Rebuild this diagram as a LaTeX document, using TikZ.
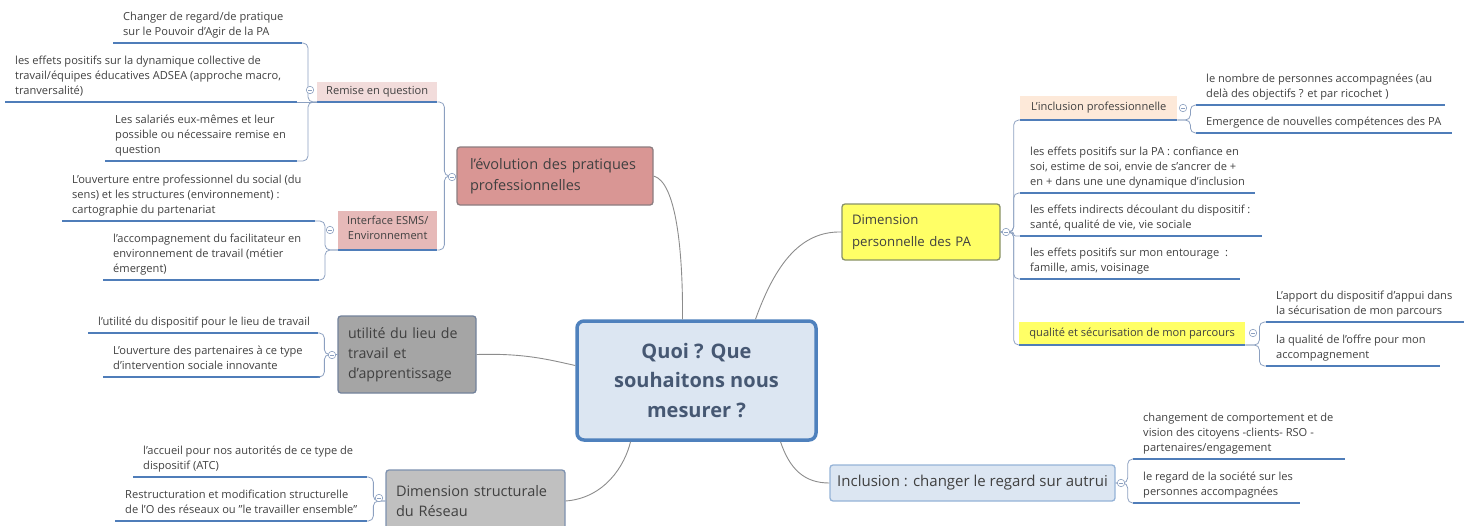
\documentclass[tikz,border=0pt]{standalone}
\usepackage{fontspec}
\setmainfont{Open Sans}
\definecolor{txt}{RGB}{64,64,64}
\definecolor{ulc}{RGB}{79,125,185}
\definecolor{brc}{RGB}{140,160,192}
\definecolor{cnc}{RGB}{140,140,140}
\definecolor{evo}{RGB}{217,150,148}
\definecolor{remq}{RGB}{242,220,219}
\definecolor{iface}{RGB}{230,185,184}
\definecolor{util}{RGB}{165,165,165}
\definecolor{struc}{RGB}{192,192,192}
\definecolor{yel}{RGB}{255,255,102}
\definecolor{peach}{RGB}{253,233,217}
\definecolor{lblue}{RGB}{220,230,242}
\definecolor{cbord}{RGB}{79,129,189}
\definecolor{ibord}{RGB}{149,179,215}
\definecolor{ctext}{RGB}{70,88,115}
\definecolor{evob}{RGB}{140,125,128}
\definecolor{utilb}{RGB}{115,130,155}
\definecolor{strucb}{RGB}{125,145,175}
\definecolor{yelb}{RGB}{135,145,105}
\newcommand\fsub{\fontsize{11.1}{15.2}\selectfont}
\newcommand\leaf[5]{%
  \node[leafnode] (#1) at (#2,#3) {#5};
  \coordinate (#1L) at (#2,#3);
  \coordinate (#1R) at ({#2+#4},#3);
  \draw[uline] (#1L) -- (#1R);}
\begin{document}
\begin{tikzpicture}[x=1pt,y=-1pt,
  leafnode/.style={anchor=south west, inner xsep=10pt, inner ysep=2.5pt, align=left, font=\fsub, text=txt, execute at begin node=\strut, execute at end node=\strut},
  subbox/.style={anchor=south west, inner xsep=5pt, inner ysep=2.5pt, align=center, font=\fsub, text=txt, execute at begin node=\strut, execute at end node=\strut},
  topic/.style={rectangle, rounded corners=3pt, line width=1.3pt, text=txt, inner ysep=0pt},
  uline/.style={draw=ulc, line width=2.8pt},
  brk/.style={draw=brc, line width=0.8pt, rounded corners=5pt},
  conn/.style={draw=cnc, line width=0.9pt},
  collapse/.style={circle, draw=brc, fill=white, line width=0.6pt, minimum size=7.5pt, inner sep=0pt,
    path picture={\draw[brc, line width=0.6pt] ([xshift=1.8pt]path picture bounding box.west) -- ([xshift=-1.8pt]path picture bounding box.east);}}]
\useasboundingbox (0,0) rectangle (1464,525);
\clip (0,0) rectangle (1464,525);

% main topics
\node[topic, fill=lblue, draw=cbord, line width=3.5pt, rounded corners=7pt, minimum width=239pt, minimum height=119pt, align=center, font=\bfseries\fontsize{20}{29.5}\selectfont, text=ctext] (C) at (696.5,380.5) {Quoi ? Que\\souhaitons nous\\mesurer ?};
\node[topic, fill=evo, draw=evob, minimum width=196pt, minimum height=58pt, text width=170pt, inner xsep=13pt, align=left, font=\fontsize{14.5}{21}\selectfont] (E) at (555,176) {l'évolution des pratiques\\professionnelles};
\node[topic, fill=util, draw=utilb, minimum width=138pt, minimum height=77pt, text width=118pt, inner xsep=10pt, align=left, font=\fontsize{14.2}{20}\selectfont] (U) at (407,354.5) {utilité du lieu de\\travail et\\d'apprentissage};
\node[topic, fill=struc, draw=strucb, minimum width=179pt, minimum height=62pt, text width=159pt, inner xsep=10pt, align=left, font=\fontsize{14.5}{20}\selectfont] (S) at (475.5,501) {Dimension structurale\\du Réseau};
\node[topic, fill=yel, draw=yelb, minimum width=158pt, minimum height=56pt, text width=138pt, inner xsep=10pt, align=left, font=\fontsize{13.2}{22}\selectfont] (D) at (921,232) {Dimension\\personnelle des PA};
\node[topic, fill=lblue, draw=ibord, minimum width=285pt, minimum height=36pt, align=center, font=\fontsize{15}{18}\selectfont] (I) at (972.5,483) {Inclusion : changer le regard sur autrui};

% filled subtopics
\node[subbox, fill=remq, minimum width=120pt, minimum height=20pt] (rq) at (317,102) {Remise en question};
\node[subbox, fill=iface, minimum width=99pt, minimum height=39pt] (ie) at (338,250) {Interface ESMS/\\Environnement};
\node[subbox, fill=peach, minimum width=157pt, minimum height=24pt] (lip) at (1020,120) {L'inclusion professionnelle};
\node[subbox, fill=yel, minimum width=226pt, minimum height=23pt] (qs) at (1019,345) {qualité et sécurisation de mon parcours};
\draw[uline] (rq.south west) -- (rq.south east);
\draw[uline] (ie.south west) -- (ie.south east);
\draw[uline] (lip.south west) -- (lip.south east);
\draw[uline] (qs.south west) -- (qs.south east);

% leaves
\leaf{r1}{113}{43}{189}{Changer de regard/de pratique\\sur le Pouvoir d'Agir de la PA}
\leaf{r2}{5}{102}{292}{les effets positifs sur la dynamique collective de\\travail/équipes éducatives ADSEA (approche macro,\\tranversalité)}
\leaf{r3}{105}{161}{192}{Les salariés eux-mêmes et leur\\possible ou nécessaire remise en\\question}
\leaf{i1}{62}{221}{253}{L'ouverture entre professionnel du social (du\\sens) et les structures (environnement) :\\cartographie du partenariat}
\leaf{i2}{103}{280}{216}{l'accompagnement du facilitateur en\\environnement de travail (métier\\émergent)}
\leaf{u1}{88}{333}{230}{l'utilité du dispositif pour le lieu de travail}
\leaf{u2}{103}{377}{217}{L'ouverture des partenaires à ce type\\d'intervention sociale innovante}
\leaf{s1}{133}{477}{234}{l'accueil pour nos autorités de ce type de\\dispositif (ATC)}
\leaf{s2}{115}{521}{252}{Restructuration et modification structurelle\\de l'O des réseaux ou "le travailler ensemble"}
\leaf{d1}{1020}{193}{235}{les effets positifs sur la PA : confiance en\\soi, estime de soi, envie de s'ancrer de +\\en + dans une une dynamique d'inclusion}
\leaf{d2}{1020}{236}{242}{les effets indirects découlant du dispositif :\\santé, qualité de vie, vie sociale}
\leaf{d3}{1020}{279}{220}{les effets positifs sur mon entourage~ :\\famille, amis, voisinage}
\leaf{l1}{1196}{105}{249}{le nombre de personnes accompagnées (au\\delà des objectifs ? et par ricochet )}
\leaf{l2}{1196}{133}{256}{Emergence de nouvelles compétences des PA}
\leaf{q1}{1266}{322}{198}{L'apport du dispositif d'appui dans\\la sécurisation de mon parcours}
\leaf{q2}{1266}{366}{174}{la qualité de l'offre pour mon\\accompagnement}
\leaf{n1}{1133}{459}{212}{changement de comportement et de\\vision des citoyens -clients- RSO -\\partenaires/engagement}
\leaf{n2}{1133}{503}{167}{le regard de la société sur les\\personnes accompagnées}

% brackets
\draw[brk] (E.west) -- ++(-12,0) |- (rq.south east);
\draw[brk] (E.west) -- ++(-12,0) |- (ie.south east);
\draw[brk] (rq.south west) -- ++(-9,0) |- (r1R);
\draw[brk] (rq.south west) -- (r2R);
\draw[brk] (rq.south west) -- ++(-9,0) |- (r3R);
\draw[brk] (ie.south west) -- ++(-13,0) |- (i1R);
\draw[brk] (ie.south west) -- ++(-13,0) |- (i2R);
\draw[brk] (U.west) -- ++(-13,0) |- (u1R);
\draw[brk] (U.west) -- ++(-13,0) |- (u2R);
\draw[brk] (S.west) -- ++(-12,0) |- (s1R);
\draw[brk] (S.west) -- ++(-12,0) |- (s2R);
\draw[brk] (D.east) -- ++(13,0) |- (lip.south west);
\draw[brk] (D.east) -- ++(13,0) |- (d1L);
\draw[brk, rounded corners=2pt] (D.east) -- ++(13,0) |- (d2L);
\draw[brk] (D.east) -- ++(13,0) |- (d3L);
\draw[brk] (D.east) -- ++(13,0) |- (qs.south west);
\draw[brk] (lip.south east) -- ++(13,0) |- (l1L);
\draw[brk] (lip.south east) -- ++(13,0) |- (l2L);
\draw[brk] (qs.south east) -- ++(14,0) |- (q1L);
\draw[brk] (qs.south east) -- ++(14,0) |- (q2L);
\draw[brk] (I.east) -- ++(12,0) |- (n1L);
\draw[brk] (I.east) -- ++(12,0) |- (n2L);

% main connectors
\draw[conn] (E.east) .. controls (676,182) and (683,250) .. ([xshift=-14pt]C.north);
\draw[conn] (U.east) .. controls (525,353) and (550,360) .. ([yshift=15pt]C.west);
\draw[conn] (S.east) .. controls (605,498) and (625,465) .. ([xshift=-66pt]C.south);
\draw[conn] ([xshift=59pt]C.north) .. controls (775,265) and (800,231) .. (D.west);
\draw[conn] ([xshift=84pt]C.south) .. controls (790,470) and (805,483) .. (I.west);

% collapse markers
\node[collapse] (cE) at (452,177) {};
\node[collapse] (cRQ) at (310,90) {};
\node[collapse] (cIE) at (330,230) {};
\node[collapse] (cU) at (332,355) {};
\node[collapse] (cS) at (379,498) {};
\node[collapse] (cD) at (1006,232) {};
\node[collapse] (cLIP) at (1183,108) {};
\node[collapse] (cQS) at (1253,333) {};
\node[collapse] (cI) at (1121,483) {};
\end{tikzpicture}
\end{document}
